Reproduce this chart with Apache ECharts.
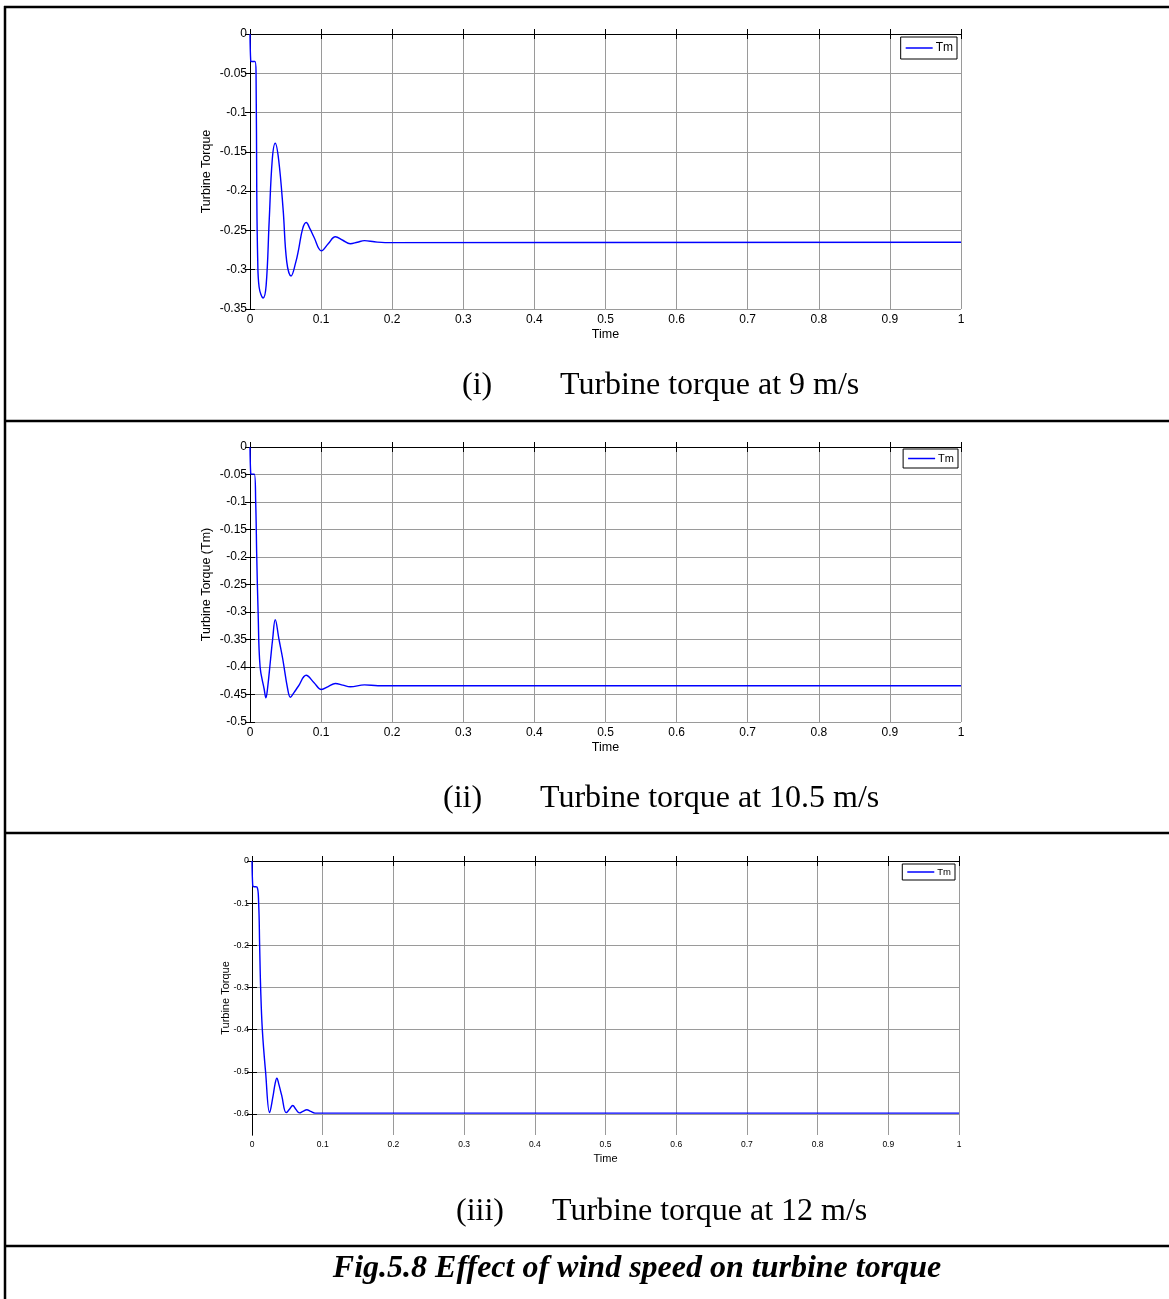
<!DOCTYPE html>
<html><head><meta charset="utf-8">
<script src="https://cdn.jsdelivr.net/npm/echarts@6/dist/echarts.min.js"></script>
<style>html,body{margin:0;padding:0;background:#fff}#c{width:1169px;height:1299px}</style>
</head><body><div id="c"></div>
<script>
// Panel (i): 9 m/s
const t1 = [0, 0.001, 0.002, 0.007, 0.0085, 0.0095, 0.0108, 0.0128, 0.0185, 0.0227, 0.027, 0.0313, 0.0355, 0.0403, 0.0466, 0.0517, 0.0578, 0.0645, 0.0684, 0.074, 0.079, 0.0844, 0.0897, 0.1005, 0.110, 0.120, 0.1305, 0.141, 0.151, 0.161, 0.175, 0.19, 1];
const v1 = [0, -0.034, -0.035, -0.035, -0.05, -0.2, -0.285, -0.322, -0.336, -0.32, -0.2375, -0.16, -0.139, -0.16, -0.2235, -0.29, -0.308, -0.29, -0.274, -0.248, -0.240, -0.248, -0.258, -0.276, -0.267, -0.258, -0.2625, -0.267, -0.265, -0.263, -0.2645, -0.2655, -0.265];
// Panel (ii): 10.5 m/s
const t2 = [0, 0.001, 0.002, 0.006, 0.008, 0.0095, 0.0114, 0.0142, 0.0199, 0.0223, 0.0246, 0.029, 0.0318, 0.0355, 0.0408, 0.046, 0.053, 0.0569, 0.0616, 0.068, 0.079, 0.0898, 0.1005, 0.110, 0.120, 0.1305, 0.141, 0.161, 0.18, 1];
const v2 = [0, -0.048, -0.0494, -0.0494, -0.1, -0.2, -0.3, -0.4, -0.44, -0.456, -0.44, -0.385, -0.35, -0.314, -0.35, -0.385, -0.44, -0.455, -0.447, -0.435, -0.415, -0.428, -0.441, -0.4355, -0.430, -0.433, -0.436, -0.4325, -0.434, -0.434];
// Panel (iii): 12 m/s
const t3 = [0, 0.001, 0.002, 0.007, 0.0094, 0.0108, 0.0122, 0.0146, 0.0192, 0.0249, 0.0296, 0.0325, 0.0352, 0.038, 0.042, 0.0484, 0.053, 0.0577, 0.062, 0.0671, 0.072, 0.0775, 0.083, 0.089, 1];
const v3 = [0, -0.058, -0.0605, -0.0616, -0.1, -0.2, -0.3, -0.4, -0.5, -0.597, -0.559, -0.53, -0.515, -0.53, -0.556, -0.597, -0.589, -0.580, -0.589, -0.5975, -0.594, -0.590, -0.594, -0.598, -0.598];

const yLabels = ['Turbine Torque', 'Turbine Torque (Tm)', 'Turbine Torque'];
const yTickValues = [
  [0, -0.05, -0.1, -0.15, -0.2, -0.25, -0.3, -0.35],
  [0, -0.05, -0.1, -0.15, -0.2, -0.25, -0.3, -0.35, -0.4, -0.45, -0.5],
  [0, -0.1, -0.2, -0.3, -0.4, -0.5, -0.6]
];
const xTickValues = [0, 0.1, 0.2, 0.3, 0.4, 0.5, 0.6, 0.7, 0.8, 0.9, 1];
const yMins = [-0.35, -0.5, -0.65];
const captionsNum = ['(i)', '(ii)', '(iii)'];
const captionsText = ['Turbine torque at 9 m/s', 'Turbine torque at 10.5 m/s', 'Turbine torque at 12 m/s'];
const figCaption = 'Fig.5.8 Effect of wind speed on turbine torque';
const seriesName = 'Tm';

const zip = (t, v) => t.map((x, i) => [x, v[i]]);
const dataSets = [zip(t1, v1), zip(t2, v2), zip(t3, v3)];

const panels = [
  {left: 250, top: 34, width: 711, height: 275, fs: 12, yfs: 12, nameFs: 12.5, nameGap: 37, xNameGap: 19, legTop: 37, legRight: 212, legFs: 12, pad: [5, 4, 5, 5]},
  {left: 250, top: 447, width: 711, height: 275, fs: 12, yfs: 12, nameFs: 12.5, nameGap: 37, xNameGap: 19, legTop: 449, legRight: 211, legFs: 11, pad: [4, 4, 4, 5]},
  {left: 252, top: 861, width: 707, height: 274, fs: 8.5, yfs: 9, nameFs: 11, nameGap: 21, xNameGap: 18, legTop: 864, legRight: 214, legFs: 9.5, pad: [3, 4, 3, 5]}
];

const font = 'Liberation Sans, Arial, sans-serif';
const grid = [], xAxis = [], yAxis = [], series = [], legend = [];
panels.forEach((p, i) => {
  grid.push({left: p.left, top: p.top, width: p.width, height: p.height, containLabel: false});
  const axisLine = {show: true, lineStyle: {color: '#000', width: 1}};
  const xTick = {show: true, inside: true, length: 5, lineStyle: {color: '#000'}, customValues: xTickValues};
  const yTick = {show: true, inside: true, length: 5, lineStyle: {color: '#000'}, customValues: yTickValues[i]};
  const split = {show: true, lineStyle: {color: '#9a9a9a', width: 1}};
  xAxis.push({gridIndex: i, type: 'value', min: 0, max: 1, position: 'bottom',
    axisLine, axisTick: xTick, splitLine: split,
    axisLabel: {margin: 5, customValues: xTickValues, color: '#000', fontSize: p.fs, fontFamily: font},
    name: 'Time', nameLocation: 'middle', nameGap: p.xNameGap, nameMoveOverlap: false,
    nameTextStyle: {color: '#000', fontSize: p.nameFs, fontFamily: font}});
  xAxis.push({gridIndex: i, type: 'value', min: 0, max: 1, position: 'top',
    axisLine, axisTick: xTick, splitLine: {show: false}, axisLabel: {show: false, customValues: xTickValues}});
  yAxis.push({gridIndex: i, type: 'value', min: yMins[i], max: 0, position: 'left',
    axisLine, axisTick: yTick, splitLine: split,
    axisLabel: {margin: 3, customValues: yTickValues[i], color: '#000', fontSize: p.yfs, fontFamily: font},
    name: yLabels[i], nameLocation: 'middle', nameGap: p.nameGap, nameRotate: 90, nameMoveOverlap: false,
    nameTextStyle: {color: '#000', fontSize: p.nameFs, fontFamily: font}});
  yAxis.push({gridIndex: i, type: 'value', min: yMins[i], max: 0, position: 'right',
    axisLine, axisTick: yTick, splitLine: {show: false}, axisLabel: {show: false, customValues: yTickValues[i]}});
  series.push({name: seriesName, type: 'line', xAxisIndex: i * 2, yAxisIndex: i * 2, data: dataSets[i],
    showSymbol: false, symbol: 'none', smooth: 0.4, lineStyle: {color: '#0000ff', width: 1.4}, itemStyle: {color: '#0000ff'},
    animation: false});
  legend.push({top: p.legTop, right: p.legRight, orient: 'vertical', data: [seriesName], icon: 'rect',
    itemWidth: 27, itemHeight: 1.5, itemGap: 0, padding: p.pad,
    borderColor: '#000', borderWidth: 1, backgroundColor: '#fff', selectedMode: false,
    textStyle: {color: '#000', fontSize: p.legFs, fontFamily: font, padding: [0, 0, 0, -2]}});
});

const serif = 'Liberation Serif, "Times New Roman", serif';
const graphic = [];
const lw = 2.5;
graphic.push({type: 'line', shape: {x1: 4, y1: 7, x2: 1169, y2: 7}, style: {stroke: '#000', lineWidth: lw}});
graphic.push({type: 'line', shape: {x1: 5, y1: 6, x2: 5, y2: 1299}, style: {stroke: '#000', lineWidth: lw}});
[421, 833, 1246].forEach(y => graphic.push({type: 'line', shape: {x1: 5, y1: y, x2: 1169, y2: y}, style: {stroke: '#000', lineWidth: lw}}));
const capY = [386, 799, 1212];
const capNumX = [462, 443, 456];
const capTextX = [560, 540, 552];
capY.forEach((y, i) => {
  graphic.push({type: 'text', x: capNumX[i], y: y, style: {text: captionsNum[i], font: '32px ' + serif, fill: '#000', textVerticalAlign: 'middle', textAlign: 'left'}});
  graphic.push({type: 'text', x: capTextX[i], y: y, style: {text: captionsText[i], font: '32px ' + serif, fill: '#000', textVerticalAlign: 'middle', textAlign: 'left'}});
});
graphic.push({type: 'text', x: 637, y: 1269, style: {text: figCaption, font: 'italic bold 32px ' + serif, fill: '#000', textVerticalAlign: 'middle', textAlign: 'center'}});

const chart = echarts.init(document.getElementById('c'));
chart.setOption({animation: false, backgroundColor: '#fff', grid, xAxis, yAxis, series, legend, graphic});
</script></body></html>
